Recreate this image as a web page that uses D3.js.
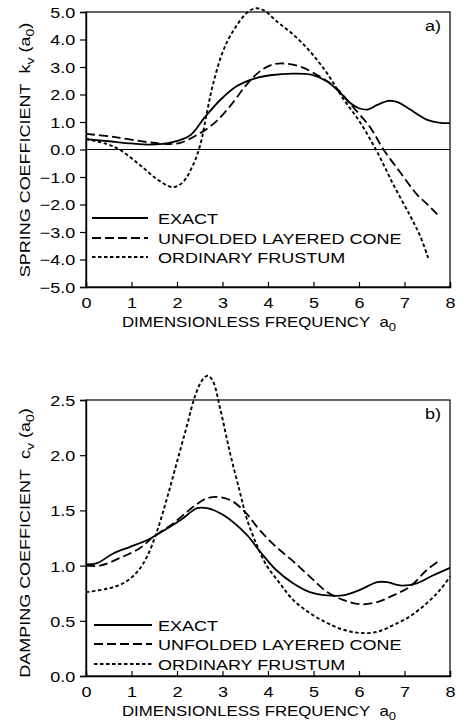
<!DOCTYPE html>
<html>
<head>
<meta charset="utf-8">
<script src="https://cdn.jsdelivr.net/npm/d3@7"></script>
<style>
  html, body { margin: 0; padding: 0; background: #fff; }
  svg { display: block; }
</style>
</head>
<body>
<svg id="chart" width="458" height="726"></svg>
<script>
// ---- Data: dimensionless frequency a0 and stiffness coefficients ----
const xTicks = [0, 1, 2, 3, 4, 5, 6, 7, 8];
const kTicks = [-5, -4, -3, -2, -1, 0, 1, 2, 3, 4, 5];
const cTicks = [0, 0.5, 1.0, 1.5, 2.0, 2.5];
const seriesNames = ["EXACT", "UNFOLDED LAYERED CONE", "ORDINARY FRUSTUM"];

// Spring coefficient k_v(a0)
const exactKa = [0, 0.5, 1.0, 1.4, 1.9, 2.3, 2.6, 2.95, 3.3, 3.7, 4.05, 4.55, 4.95, 5.3, 5.6, 5.8, 6.0, 6.2, 6.4, 6.65, 6.85, 7.1, 7.5, 7.75, 8.0];
const exactK  = [0.38, 0.3, 0.22, 0.18, 0.27, 0.53, 1.15, 1.8, 2.29, 2.58, 2.7, 2.76, 2.72, 2.47, 2.04, 1.7, 1.5, 1.46, 1.62, 1.77, 1.72, 1.48, 1.08, 0.98, 0.96];
const coneKa  = [0, 0.6, 1.34, 1.8, 2.07, 2.44, 2.8, 3.16, 3.53, 3.82, 4.05, 4.3, 4.7, 5.14, 5.52, 5.8, 6.24, 6.53, 6.9, 7.27, 7.5, 7.72];
const coneK   = [0.57, 0.46, 0.27, 0.2, 0.24, 0.53, 0.93, 1.56, 2.36, 2.84, 3.06, 3.13, 3.02, 2.65, 2.2, 1.67, 0.82, 0.02, -0.82, -1.63, -1.99, -2.36];
const frustKa = [0, 0.46, 0.75, 1.19, 1.56, 1.91, 2.13, 2.35, 2.51, 2.66, 2.79, 3.01, 3.23, 3.53, 3.71, 3.9, 4.2, 4.55, 4.92, 5.3, 5.65, 6.02, 6.4, 6.75, 7.12, 7.34, 7.52];
const frustK  = [0.38, 0.2, -0.02, -0.57, -1.08, -1.37, -1.19, -0.57, 0.16, 1.37, 2.36, 3.57, 4.3, 4.96, 5.13, 5.07, 4.65, 4.19, 3.57, 2.77, 1.85, 1.0, -0.09, -1.26, -2.4, -3.13, -3.94];

// Damping coefficient c_v(a0)
const exactCa = [0, 0.23, 0.6, 0.97, 1.34, 1.56, 2.07, 2.44, 2.66, 3.01, 3.53, 3.82, 4.18, 4.55, 4.92, 5.3, 5.65, 6.02, 6.4, 6.62, 6.9, 7.27, 7.62, 8.0];
const exactC  = [1.01, 1.02, 1.11, 1.17, 1.23, 1.28, 1.41, 1.52, 1.52, 1.46, 1.28, 1.13, 0.96, 0.84, 0.76, 0.73, 0.73, 0.78, 0.85, 0.85, 0.82, 0.84, 0.91, 0.98];
const coneCa  = [0, 0.31, 0.75, 1.19, 1.48, 1.91, 2.35, 2.66, 2.95, 3.23, 3.53, 3.82, 4.18, 4.55, 4.92, 5.3, 5.65, 6.02, 6.4, 6.75, 7.12, 7.49, 7.78];
const coneC   = [1.0, 1.0, 1.07, 1.16, 1.26, 1.38, 1.53, 1.61, 1.62, 1.58, 1.47, 1.32, 1.17, 1.04, 0.9, 0.76, 0.69, 0.65, 0.67, 0.73, 0.81, 0.96, 1.05];
const frustCa = [0, 0.46, 0.82, 1.12, 1.34, 1.56, 1.78, 2.0, 2.22, 2.4, 2.57, 2.68, 2.79, 2.95, 3.16, 3.38, 3.53, 3.75, 3.97, 4.26, 4.55, 4.92, 5.3, 5.65, 6.02, 6.4, 6.75, 7.12, 7.49, 7.78, 8.0];
const frustC  = [0.76, 0.79, 0.84, 0.94, 1.08, 1.31, 1.61, 1.94, 2.27, 2.54, 2.69, 2.72, 2.67, 2.42, 2.03, 1.67, 1.43, 1.19, 1.0, 0.84, 0.69, 0.57, 0.48, 0.42, 0.39, 0.4, 0.46, 0.54, 0.66, 0.78, 0.9];

// ---- Styling ----
const FONT = "'Liberation Sans', Arial, Helvetica, sans-serif";
const FS = 15;        // font size
const SX = 1.2;       // horizontal widening of the lettering
const NB = "\u00a0";  // fixed-width gap
const lineStyles = [
  { dash: null,      width: 1.8 },
  { dash: "9,4",     width: 1.8 },
  { dash: "3.5,2.5", width: 1.9 }
];

const svg = d3.select("#chart");
const L = 86, R = 450;
const x = d3.scaleLinear().domain([0, 8]).range([L, R]);

function zip(xs, ys) { return xs.map((v, i) => [v, ys[i]]); }

// Write text made of runs; runs with sub:true are drawn as subscripts
function addText(parent, transform, runs, anchor, size) {
  const fs = size || FS;
  const t = parent.append("text")
    .attr("transform", transform)
    .attr("font-family", FONT)
    .attr("font-size", fs)
    .attr("fill", "#000")
    .attr("text-anchor", anchor || "start");
  let shifted = false;
  runs.forEach(r => {
    const s = t.append("tspan").text(r.t);
    if (r.sub) s.attr("font-size", fs * 0.78);
    if (r.sub && !shifted) { s.attr("dy", 4); shifted = true; }
    else if (!r.sub && shifted) { s.attr("dy", -4); shifted = false; }
  });
  return t;
}

function panel(cfg) {
  const g = svg.append("g");
  const y = cfg.y;
  const [yb, yt] = y.range();

  // frame
  g.append("rect")
    .attr("x", L).attr("y", yt)
    .attr("width", R - L).attr("height", yb - yt)
    .attr("fill", "none").attr("stroke", "#000").attr("stroke-width", 1.2);

  if (cfg.zeroLine) {
    g.append("line")
      .attr("x1", L).attr("x2", R)
      .attr("y1", y(0)).attr("y2", y(0))
      .attr("stroke", "#000").attr("stroke-width", 1);
  }

  // y axis, ticks outward
  const ya = g.append("g").attr("transform", `translate(${L},0)`)
    .call(d3.axisLeft(y).tickValues(cfg.yTicks).tickFormat(d3.format(".1f")).tickSizeOuter(0).tickSize(6));
  ya.select(".domain").attr("stroke-width", 1.4);
  ya.selectAll(".tick line").attr("stroke-width", 1.2);
  ya.selectAll(".tick text")
    .attr("font-family", FONT).attr("font-size", FS).attr("fill", "#000")
    .attr("x", -9).attr("dy", "0.36em")
    .attr("transform", `scale(${SX},1)`);

  // x axis, ticks inward
  const xa = g.append("g").attr("transform", `translate(0,${yb})`)
    .call(d3.axisBottom(x).tickValues(xTicks).tickFormat(d3.format("d")).tickSizeOuter(0).tickSize(-5));
  xa.select(".domain").attr("stroke-width", 1.4);
  xa.selectAll(".tick line").attr("stroke-width", 1.2);
  xa.selectAll(".tick text")
    .attr("font-family", FONT).attr("font-size", FS).attr("fill", "#000")
    .attr("y", 21).attr("dy", 0)
    .attr("transform", `scale(${SX},1)`);

  // axis titles
  addText(g, `translate(122,${yb + 40}) scale(${SX},1)`,
    [{ t: "DIMENSIONLESS FREQUENCY" + NB + NB + "a" }, { t: "0", sub: true }], "start", 14);
  addText(g, `translate(30,${cfg.yTitleCenter}) rotate(-90) scale(${SX},1)`, cfg.yTitle, "middle");

  // panel tag
  addText(g, `translate(425,${yt + 19}) scale(${SX},1)`, [{ t: cfg.tag }], "start");

  // curves
  const line = d3.line().x(d => x(d[0])).y(d => y(d[1])).curve(d3.curveCatmullRom.alpha(0.5));
  cfg.series.forEach((s, i) => {
    g.append("path")
      .attr("d", line(s))
      .attr("fill", "none")
      .attr("stroke", "#000")
      .attr("stroke-width", lineStyles[i].width)
      .attr("stroke-dasharray", lineStyles[i].dash)
      .attr("stroke-linejoin", "round");
  });

  // legend
  const lg = cfg.legend;
  seriesNames.forEach((name, i) => {
    const ly = lg.y[i];
    g.append("line")
      .attr("x1", lg.x1).attr("x2", lg.x2).attr("y1", ly).attr("y2", ly)
      .attr("stroke", "#000")
      .attr("stroke-width", lineStyles[i].width)
      .attr("stroke-dasharray", lineStyles[i].dash);
    addText(g, `translate(${lg.tx},${ly + 5.5}) scale(${SX},1)`, [{ t: name }], "start");
  });
}

panel({
  y: d3.scaleLinear().domain([-5, 5]).range([287, 12]),
  yTicks: kTicks,
  zeroLine: true,
  tag: "a)",
  yTitleCenter: 150,
  yTitle: [{ t: "SPRING COEFFICIENT" + NB + NB + "k" }, { t: "v", sub: true }, { t: " (a" }, { t: "0", sub: true }, { t: ")" }],
  series: [zip(exactKa, exactK), zip(coneKa, coneK), zip(frustKa, frustK)],
  legend: { x1: 92, x2: 148, tx: 158, y: [218, 238, 257] }
});

panel({
  y: d3.scaleLinear().domain([0, 2.5]).range([676, 400]),
  yTicks: cTicks,
  zeroLine: false,
  tag: "b)",
  yTitleCenter: 543,
  yTitle: [{ t: "DAMPING COEFFICIENT" + NB + NB + "c" }, { t: "v", sub: true }, { t: " (a" }, { t: "0", sub: true }, { t: ")" }],
  series: [zip(exactCa, exactC), zip(coneCa, coneC), zip(frustCa, frustC)],
  legend: { x1: 94, x2: 152, tx: 158, y: [625, 644, 664] }
});
</script>
</body>
</html>
